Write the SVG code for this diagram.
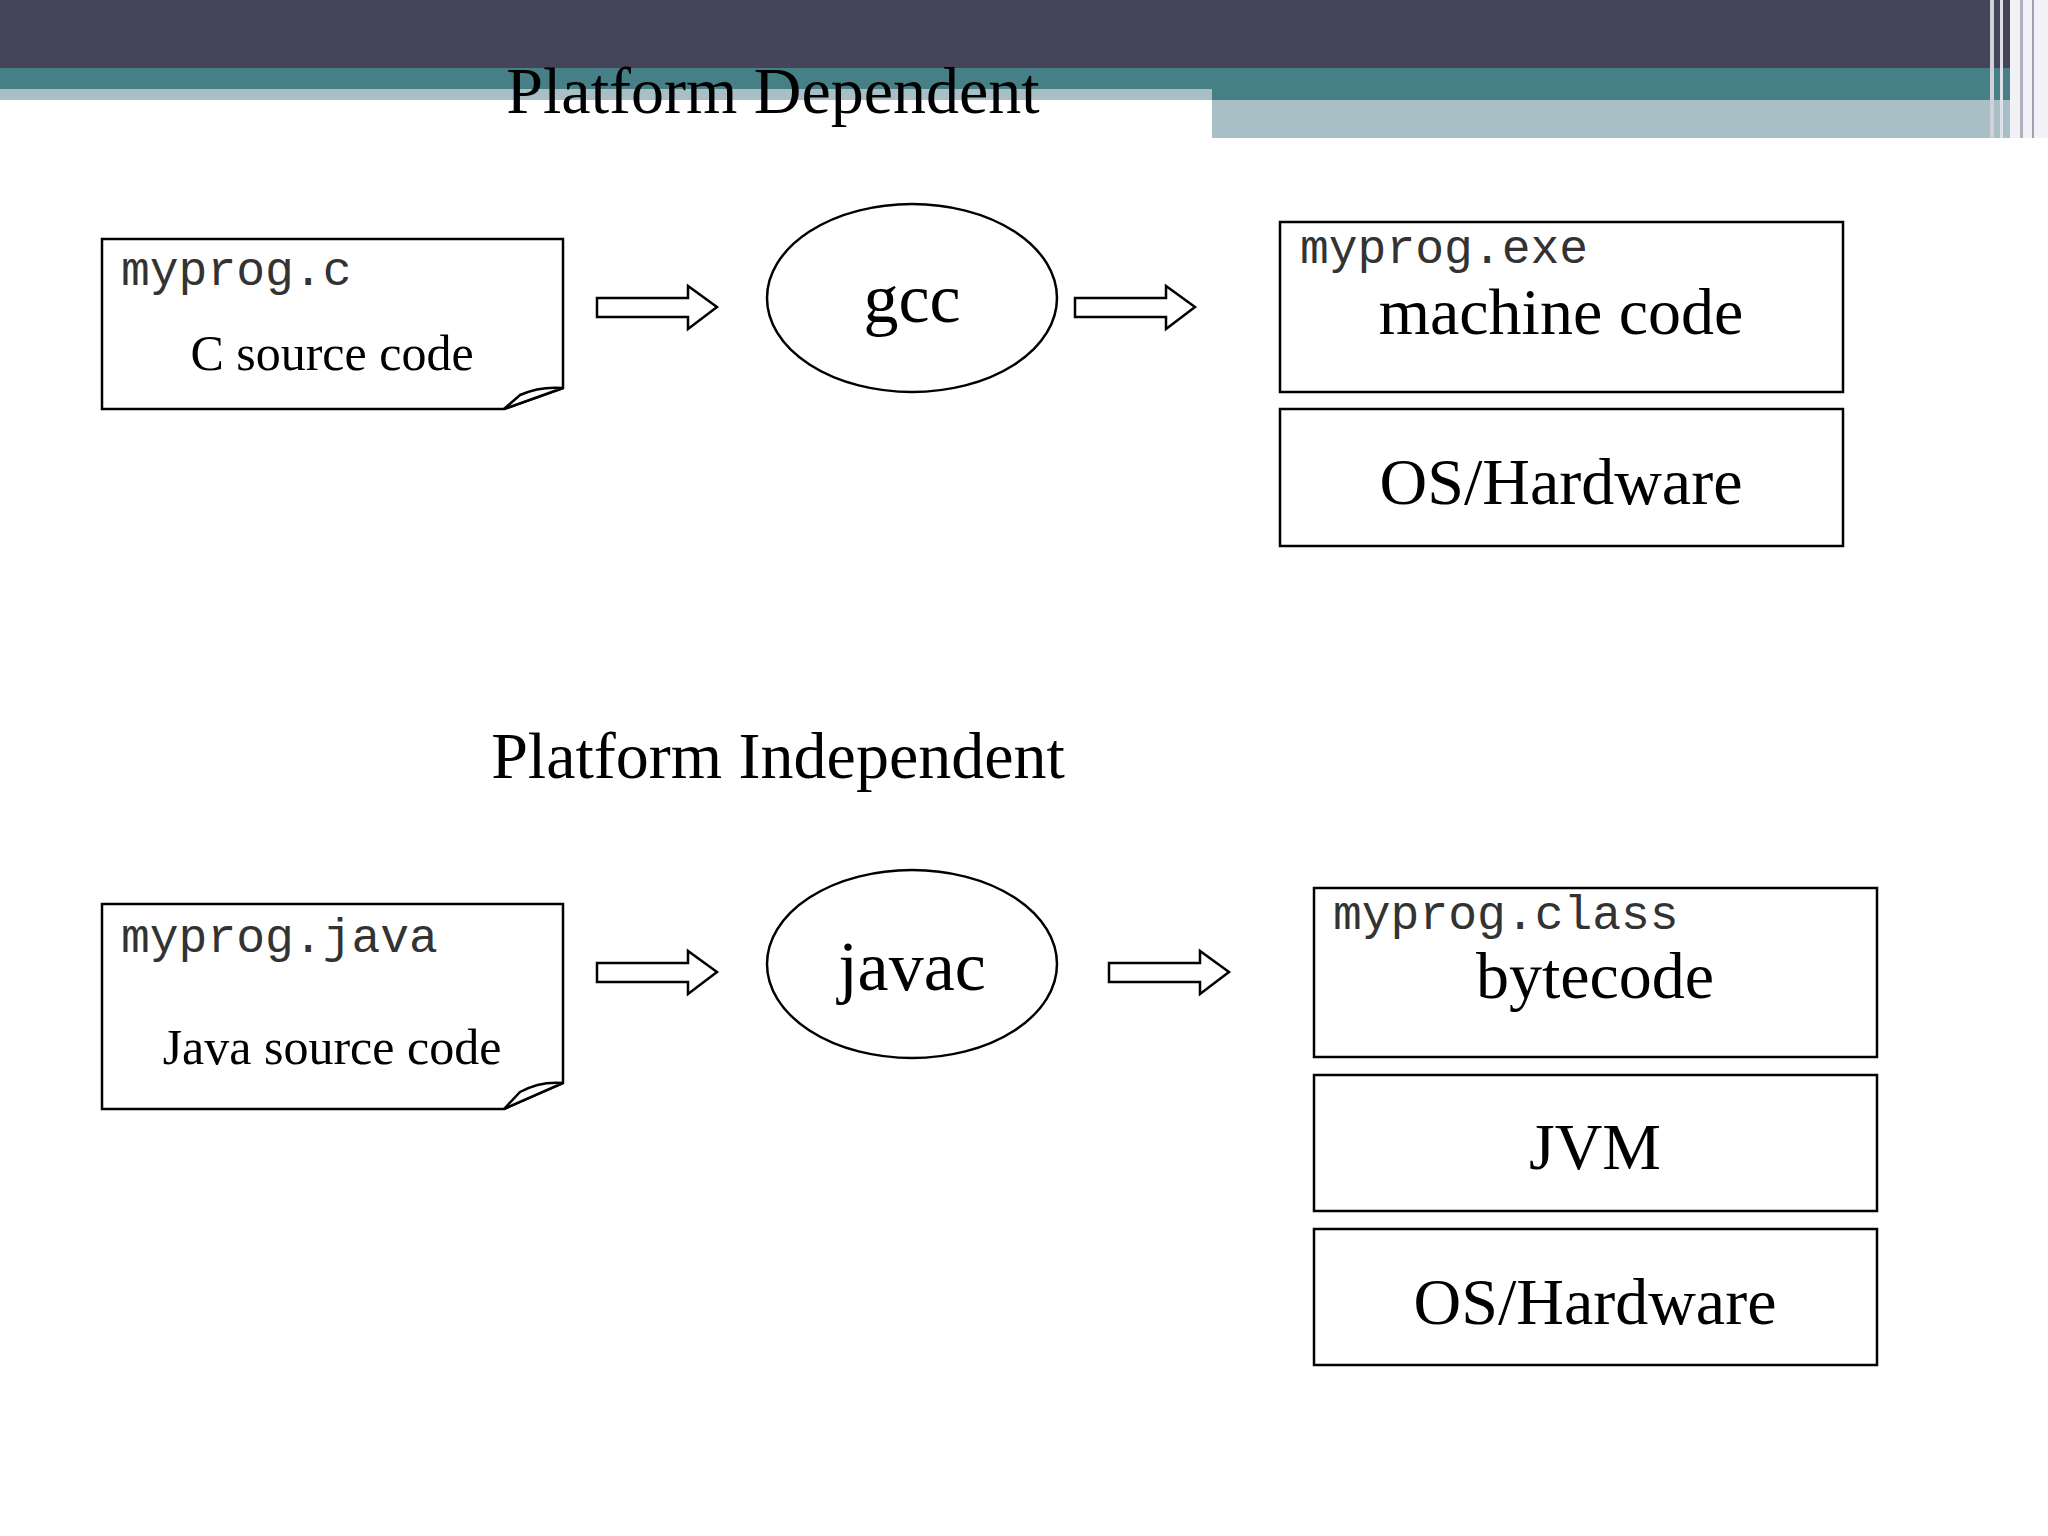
<svg xmlns="http://www.w3.org/2000/svg" width="2048" height="1536" viewBox="0 0 2048 1536">
<style>
.box{fill:#fff;stroke:#000;stroke-width:2.5}
.ser{font-family:"Liberation Serif","Times New Roman",serif;fill:#000}
.mono{font-family:"Liberation Mono","Courier New",monospace;fill:#333;font-size:48px}
.arr{fill:#fff;stroke:#000;stroke-width:2.5}
</style>
<defs>
<path id="arrow" d="M0,6 H91 V-6 L120,15 L91,37 V25 H0 Z"/>
</defs>
<rect width="2048" height="1536" fill="#fff"/>
<g id="header">
<rect x="0" y="0" width="2048" height="68" fill="#454459"/>
<rect x="0" y="68" width="2048" height="32" fill="#467f86"/>
<rect x="0" y="89" width="1212" height="11" fill="#a7bfc5"/>
<rect x="1212" y="100" width="800" height="38" fill="#a7bfc5"/>
<rect x="1990" y="0" width="4" height="138" fill="#d0d0da"/>
<rect x="2000" y="0" width="3" height="138" fill="#e0e0e8"/>
<rect x="2010" y="0" width="38" height="138" fill="#f2f2f6"/>
<rect x="2020" y="0" width="3" height="138" fill="#b0b0c0"/>
<rect x="2032" y="0" width="2" height="138" fill="#a0a0b0"/>
</g>
<text class="ser" x="773" y="113" font-size="66" text-anchor="middle">Platform Dependent</text>
<text class="ser" x="778" y="778" font-size="66" text-anchor="middle">Platform Independent</text>
<g id="csrc">
<path class="box" d="M102,239 H563 V388 L504,409 H102 Z"/>
<path class="box" d="M504,409 L563,388 Q540,386 520,395 Z"/>
<text class="mono" x="121" y="285">myprog.c</text>
<text class="ser" x="332" y="370" font-size="50" text-anchor="middle">C source code</text>
</g>
<g id="gcc">
<ellipse class="box" cx="912" cy="298" rx="145" ry="94"/>
<text class="ser" x="912" y="322" font-size="70" text-anchor="middle">gcc</text>
</g>
<g id="machine">
<rect class="box" x="1280" y="222" width="563" height="170"/>
<text class="mono" x="1300" y="263">myprog.exe</text>
<text class="ser" x="1561" y="334" font-size="66" text-anchor="middle">machine code</text>
</g>
<g id="os1">
<rect class="box" x="1280" y="409" width="563" height="137"/>
<text class="ser" x="1561" y="504" font-size="66" text-anchor="middle">OS/Hardware</text>
</g>
<g id="javasrc">
<path class="box" d="M102,904 H563 V1083 L504,1109 H102 Z"/>
<path class="box" d="M504,1109 L563,1083 Q540,1081 520,1092 Z"/>
<text class="mono" x="121" y="952">myprog.java</text>
<text class="ser" x="332" y="1064" font-size="50" text-anchor="middle">Java source code</text>
</g>
<g id="javac">
<ellipse class="box" cx="912" cy="964" rx="145" ry="94"/>
<text class="ser" x="912" y="990" font-size="70" text-anchor="middle">javac</text>
</g>
<g id="bytecode">
<rect class="box" x="1314" y="888" width="563" height="169"/>
<text class="mono" x="1333" y="929">myprog.class</text>
<text class="ser" x="1595" y="998" font-size="66" text-anchor="middle">bytecode</text>
</g>
<g id="jvm">
<rect class="box" x="1314" y="1075" width="563" height="136"/>
<text class="ser" x="1595" y="1169" font-size="66" text-anchor="middle">JVM</text>
</g>
<g id="os2">
<rect class="box" x="1314" y="1229" width="563" height="136"/>
<text class="ser" x="1595" y="1324" font-size="66" text-anchor="middle">OS/Hardware</text>
</g>
<g id="connectors">
<use href="#arrow" class="arr" x="597" y="292"/>
<use href="#arrow" class="arr" x="1075" y="292"/>
<use href="#arrow" class="arr" x="597" y="957"/>
<use href="#arrow" class="arr" x="1109" y="957"/>
</g>
</svg>
